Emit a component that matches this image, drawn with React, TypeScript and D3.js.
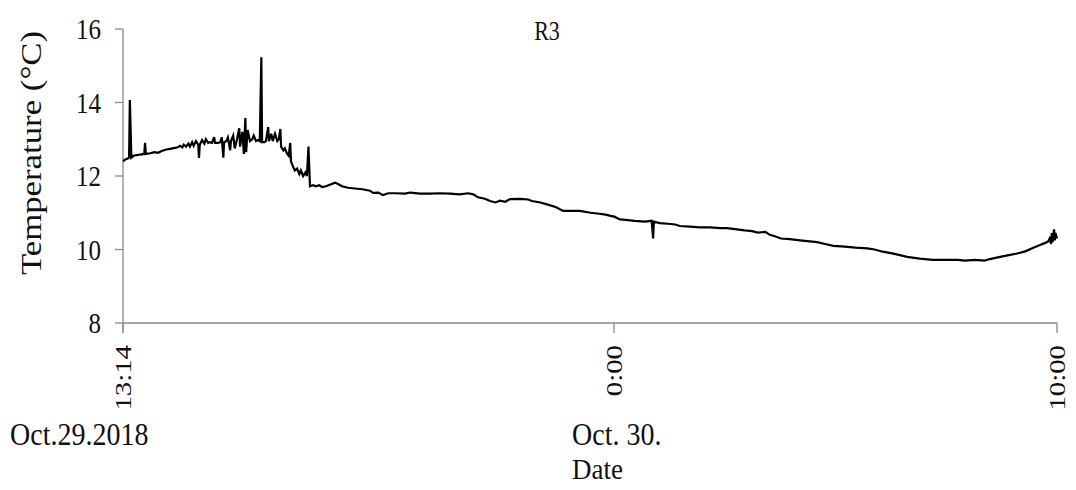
import React from "react";
import * as d3 from "d3";

// Elapsed minutes since Oct.29.2018 13:14
const elapsedMin = [
  0, 3, 7, 8, 9, 11, 14, 18, 22, 28, 29, 30, 36, 41, 46, 51, 57, 62, 67, 72,
  75, 78, 80, 83, 86, 88, 91, 93, 96, 99, 100, 101, 104, 107, 109, 112, 114, 117, 120, 121,
  125, 128, 130, 132, 133, 136, 138, 141, 142, 145, 147, 150, 153, 154, 157, 159, 161, 162, 164, 167,
  170, 172, 175, 178, 180, 182, 183, 186, 188, 191, 192, 195, 197, 200, 203, 205, 207, 208, 211, 213,
  216, 218, 220, 221, 224, 226, 229, 232, 234, 237, 240, 242, 244, 246, 250, 254, 258, 262, 267, 272,
  279, 283, 288, 296, 305, 315, 325, 329, 336, 342, 349, 358, 371, 378, 391, 404, 417, 430, 443, 454,
  461, 467, 476, 483, 490, 496, 503, 509, 522, 533, 538, 549, 559, 570, 579, 588, 601, 615, 624, 635,
  644, 646, 654, 665, 674, 688, 697, 699, 700, 708, 719, 729, 735, 749, 762, 776, 790, 799, 807, 823,
  833, 841, 851, 857, 864, 872, 884, 898, 911, 921, 932, 943, 959, 973, 989, 999, 1010, 1026, 1043, 1060,
  1078, 1094, 1112, 1121, 1135, 1148, 1155, 1169, 1179, 1192, 1203, 1214, 1223, 1230, 1234, 1236, 1238, 1239, 1240, 1242,
  1243, 1244, 1246,
];

const tempC = [
  12.40, 12.45, 12.48, 12.50, 14.07, 12.50, 12.55, 12.57, 12.58, 12.60, 12.90, 12.60, 12.62, 12.65, 12.63, 12.68, 12.72, 12.74, 12.76, 12.78,
  12.82, 12.78, 12.85, 12.80, 12.88, 12.80, 12.92, 12.82, 12.95, 12.85, 12.49, 12.85, 12.98, 12.88, 13.00, 12.90, 12.92, 12.90, 13.06, 12.90,
  12.90, 12.92, 13.05, 12.50, 12.92, 12.95, 13.05, 12.70, 12.95, 13.10, 12.75, 13.00, 13.30, 12.80, 13.20, 12.60, 13.58, 12.65, 13.25, 12.95,
  13.00, 13.10, 12.95, 12.98, 12.95, 15.23, 12.92, 12.92, 12.95, 13.33, 12.95, 13.15, 12.95, 13.15, 12.95, 13.00, 13.28, 12.80, 12.70, 12.75,
  12.60, 12.55, 12.90, 12.40, 12.24, 12.15, 12.20, 12.05, 12.15, 12.00, 12.10, 12.00, 12.80, 11.72, 11.75, 11.72, 11.75, 11.70, 11.72, 11.76,
  11.82, 11.78, 11.72, 11.68, 11.66, 11.64, 11.60, 11.54, 11.55, 11.48, 11.53, 11.53, 11.52, 11.55, 11.52, 11.52, 11.53, 11.52, 11.50, 11.53,
  11.50, 11.42, 11.38, 11.32, 11.28, 11.33, 11.30, 11.37, 11.38, 11.36, 11.32, 11.28, 11.22, 11.15, 11.05, 11.05, 11.05, 11.00, 10.98, 10.95,
  10.90, 10.90, 10.82, 10.80, 10.78, 10.76, 10.78, 10.30, 10.76, 10.72, 10.70, 10.68, 10.64, 10.62, 10.60, 10.60, 10.58, 10.58, 10.56, 10.52,
  10.50, 10.46, 10.48, 10.40, 10.36, 10.30, 10.28, 10.25, 10.22, 10.20, 10.15, 10.10, 10.08, 10.05, 10.03, 10.00, 9.94, 9.88, 9.80, 9.75,
  9.72, 9.72, 9.72, 9.70, 9.72, 9.70, 9.74, 9.80, 9.84, 9.89, 9.95, 10.05, 10.12, 10.18, 10.22, 10.30, 10.15, 10.45, 10.20, 10.55,
  10.25, 10.45, 10.30,
];

const yTicks = [8, 10, 12, 14, 16];
const xTickMin = [0, 646, 1246];
const xTickLabels = ["13:14", "0:00", "10:00"];
const dateLabels = ["Oct.29.2018", "Oct. 30."];
const dateLabelMin = [0, 646];

const FONT = "Liberation Serif";
const AXIS = "#8a8a8a";
const txt: React.CSSProperties = { fontFamily: FONT };

export default function App() {
  const x = d3.scaleLinear().domain([0, 646, 1246]).range([123, 614, 1057]);
  const y = d3.scaleLinear().domain([8, 16]).range([323, 29]);
  const pts = elapsedMin.map((m, i) => [m, tempC[i]] as [number, number]);
  const line = d3
    .line<[number, number]>()
    .x((d) => x(d[0]))
    .y((d) => y(d[1]))
    .curve(d3.curveLinear);
  const path = line(pts) || "";
  const x0 = x(0);
  const yBase = y(8);

  return (
    <svg
      width={1076}
      height={490}
      style={{ position: "absolute", left: 0, top: 0, background: "#fff" }}
    >
      {/* title */}
      <text style={txt} transform="translate(547,40) scale(1,1.2)" textAnchor="middle" fontSize={22} fill="#111">
        R3
      </text>
      {/* y axis */}
      <line x1={x0} x2={x0} y1={y(16)} y2={yBase + 10} stroke={AXIS} strokeWidth={1.3} />
      {yTicks.map((t) => (
        <g key={t}>
          <line x1={x0 - 8} x2={x0} y1={y(t)} y2={y(t)} stroke={AXIS} strokeWidth={1.3} />
          <text
            style={txt}
            transform={`translate(101,${y(t)}) scale(1,1.2)`}
            textAnchor="end"
            dy="0.34em"
            fontSize={25}
            fill="#111"
          >
            {t}
          </text>
        </g>
      ))}
      <text
        style={txt}
        transform="translate(41,153) scale(1,1.2) rotate(-90)"
        textAnchor="middle"
        fontSize={29}
        fill="#111"
      >
        Temperature (°C)
      </text>
      {/* x axis */}
      <line x1={x0} x2={x(1246)} y1={yBase} y2={yBase} stroke={AXIS} strokeWidth={1.5} />
      {xTickMin.map((m, i) => (
        <g key={m}>
          <line x1={x(m)} x2={x(m)} y1={yBase} y2={yBase + 10} stroke={AXIS} strokeWidth={1.3} />
          <text
            style={txt}
            transform={`translate(${x(m)},345) scale(1,1.2) rotate(-90)`}
            textAnchor="end"
            dy="0.34em"
            fontSize={24}
            fill="#111"
          >
            {xTickLabels[i]}
          </text>
        </g>
      ))}
      {dateLabels.map((l, i) => (
        <text
          key={l}
          style={txt}
          transform={`translate(${i === 0 ? 10 : x(dateLabelMin[i]) - 42},445) scale(1,1.12)`}
          fontSize={28}
          fill="#111"
        >
          {l}
        </text>
      ))}
      <text style={txt} transform="translate(572,479) scale(1,1.12)" fontSize={27} fill="#111">
        Date
      </text>
      {/* data */}
      <path d={path} fill="none" stroke="#000" strokeWidth={2.2} strokeLinejoin="miter" />
    </svg>
  );
}
